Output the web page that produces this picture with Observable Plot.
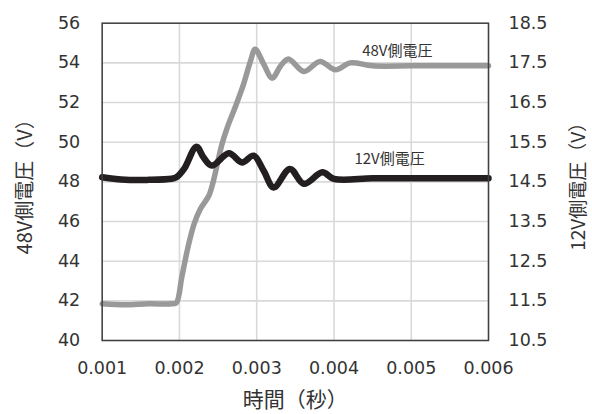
<!DOCTYPE html>
<html>
<head>
<meta charset="utf-8">
<script src="https://cdn.jsdelivr.net/npm/d3@7"></script>
<script src="https://cdn.jsdelivr.net/npm/@observablehq/plot@0.6"></script>
<style>
  html, body { margin: 0; padding: 0; background: white; }
</style>
</head>
<body>
<div id="chart"></div>
<script>
// Time axis (seconds)
const xTicks = [0.001, 0.002, 0.003, 0.004, 0.005, 0.006];
const xTickLabels = ["0.001", "0.002", "0.003", "0.004", "0.005", "0.006"];
// Left axis (48V side)
const leftTicks = [40, 42, 44, 46, 48, 50, 52, 54, 56];
// Right axis (12V side) labels aligned to left ticks
const rightTicks = [10.5, 11.5, 12.5, 13.5, 14.5, 15.5, 16.5, 17.5, 18.5];
const rightTickLabels = ["10.5", "11.5", "12.5", "13.5", "14.5", "15.5", "16.5", "17.5", "18.5"];

// 48V side voltage (V)
const t48 = [0.001, 0.0013, 0.0016, 0.0019, 0.00196, 0.00203, 0.00211, 0.00219, 0.00227, 0.00238, 0.00244,
  0.00255, 0.00262, 0.00272, 0.00283, 0.00292, 0.00298, 0.00309, 0.0032, 0.00331, 0.00341, 0.00361,
  0.00382, 0.00402, 0.00421, 0.0045, 0.005, 0.0055, 0.006];
const v48 = [41.85, 41.8, 41.85, 41.85, 41.9, 43.19, 44.7, 45.88, 46.63, 47.3, 48.06,
  49.9, 50.75, 51.75, 52.93, 54.1, 54.69, 53.94, 53.23, 53.85, 54.2, 53.57,
  54.07, 53.65, 54.0, 53.85, 53.85, 53.85, 53.85];

// 12V side voltage (V)
const t12 = [0.001, 0.0013, 0.0016, 0.0019, 0.00196, 0.00206, 0.00222, 0.00231, 0.00242, 0.00264, 0.00281,
  0.00296, 0.00309, 0.00322, 0.00343, 0.00361, 0.00385, 0.004, 0.0045, 0.005, 0.0055, 0.006];
const v12 = [14.615, 14.55, 14.55, 14.58, 14.615, 14.825, 15.385, 15.12, 14.91, 15.22, 14.99,
  15.16, 14.78, 14.36, 14.825, 14.45, 14.74, 14.575, 14.59, 14.59, 14.59, 14.59];

// Series names and label anchors (in data units)
const seriesNames = ["48V側電圧", "12V側電圧"];
const labelT = [0.00482, 0.00472];
const labelV = [54.6, 49.12];

const xTitle = "時間（秒）";
const yLeftTitle = "48V側電圧（V）";
const yRightTitle = "12V側電圧（V）";

// Map 12V-side values onto the left (48V) scale: 10.5..18.5 <-> 40..56
const toLeft = v => 40 + (v - 10.5) * 2;

const data48 = t48.map((t, i) => ({t, v: v48[i]}));
const data12 = t12.map((t, i) => ({t, v: toLeft(v12[i])}));
const labels = seriesNames.map((name, i) => ({name, t: labelT[i], v: labelV[i]}));

const cjk = "'Noto Sans CJK JP', 'Noto Sans', sans-serif";

const chart = Plot.plot({
  width: 592,
  height: 414,
  marginLeft: 101.7,
  marginRight: 104,
  marginTop: 22.7,
  marginBottom: 74,
  style: {fontFamily: "'DejaVu Sans', Verdana, sans-serif", fontSize: "17.5px", color: "#333", background: "white"},
  x: {domain: [0.001, 0.006]},
  y: {domain: [40, 56]},
  marks: [
    Plot.gridX(xTicks, {stroke: "#d9d9d9", strokeOpacity: 1, strokeWidth: 1.6}),
    Plot.gridY(leftTicks, {stroke: "#d9d9d9", strokeOpacity: 1, strokeWidth: 1.6}),
    Plot.axisX(xTicks, {anchor: "bottom", tickSize: 0, tickPadding: 21, label: null,
      tickFormat: d => xTickLabels[xTicks.indexOf(d)]}),
    Plot.axisY(leftTicks, {anchor: "left", tickSize: 0, tickPadding: 22, label: null}),
    Plot.axisY(leftTicks, {anchor: "right", tickSize: 0, tickPadding: 20, label: null,
      tickFormat: d => rightTickLabels[leftTicks.indexOf(d)]}),
    Plot.line(data48, {x: "t", y: "v", stroke: "#999999", strokeWidth: 5.5, curve: "catmull-rom"}),
    Plot.line(data12, {x: "t", y: "v", stroke: "#231f20", strokeWidth: 6.5, curve: "catmull-rom"}),
    Plot.frame({stroke: "#404040", strokeWidth: 1.5}),
    Plot.text(labels, {x: "t", y: "v", text: "name", fontFamily: cjk, fontSize: 15, fill: "#333", textAnchor: "middle"}),
    Plot.text([xTitle], {frameAnchor: "bottom", dy: 60, lineAnchor: "middle", textAnchor: "middle",
      fontFamily: cjk, fontSize: 21, fill: "#333"}),
    Plot.text([yLeftTitle], {frameAnchor: "left", dx: -77, rotate: -90, lineAnchor: "middle", textAnchor: "middle",
      fontFamily: cjk, fontSize: 20, fill: "#333"}),
    Plot.text([yRightTitle], {frameAnchor: "right", dx: 90, rotate: -90, lineAnchor: "middle", textAnchor: "middle",
      fontFamily: cjk, fontSize: 19, fill: "#333"})
  ]
});
document.getElementById("chart").appendChild(chart);
</script>
</body>
</html>
